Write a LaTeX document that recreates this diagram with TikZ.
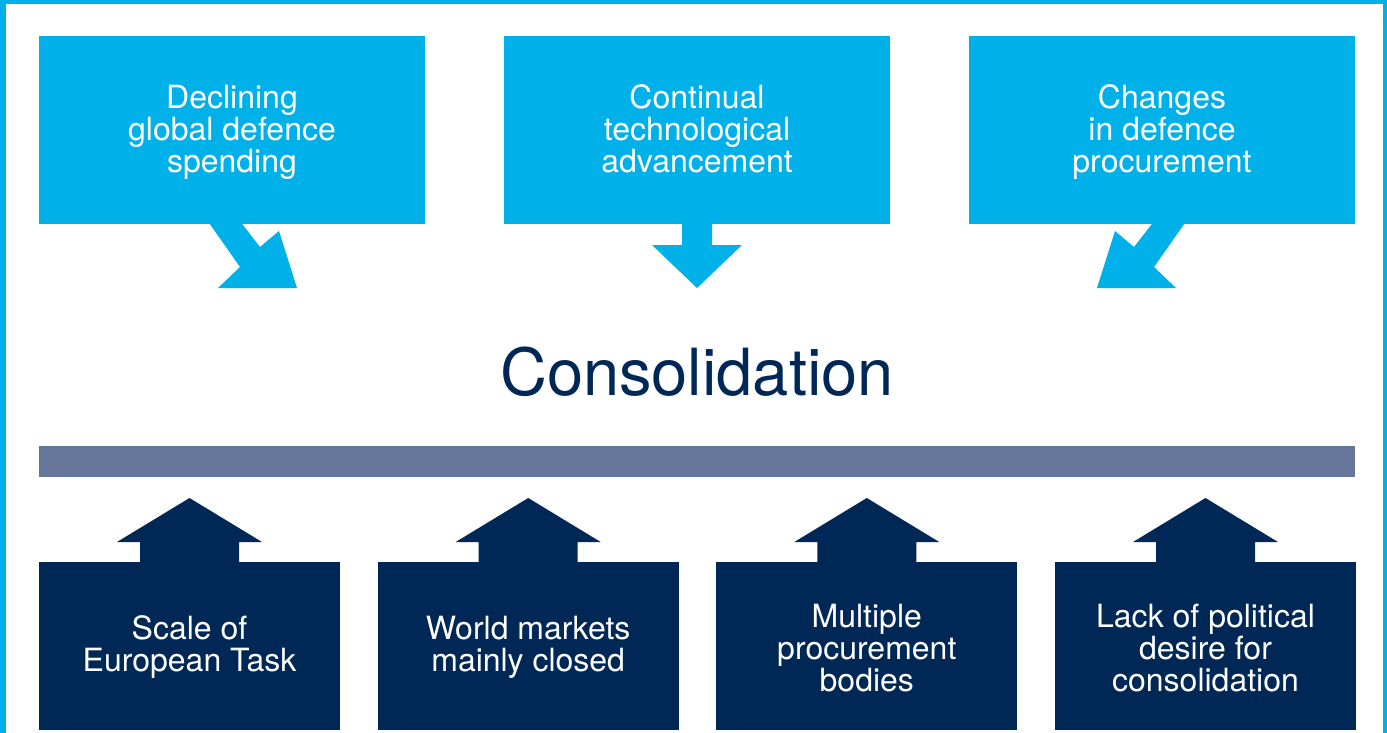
\documentclass[tikz,border=0pt]{standalone}
\usepackage{fontspec}
\setmainfont{TeX Gyre Heros}
\definecolor{skyblue}{HTML}{00B1E9}
\definecolor{navy}{HTML}{002856}
\definecolor{slate}{HTML}{66769A}
\tikzset{
  boxtext/.style={inner sep=0pt, align=center, text=white, font=\fontsize{32}{32}\selectfont, execute at begin node={\strut}, execute at end node={\strut}},
  topbox/.style={boxtext, fill=skyblue, minimum width=386pt, minimum height=188pt},
  lowbox/.style={boxtext, fill=navy, minimum width=301pt, minimum height=168pt},
  bigword/.style={anchor=base, text=navy, font=\fontsize{65}{70}\selectfont}
}
\begin{document}
\begin{tikzpicture}[x=1pt,y=-1pt]
\useasboundingbox (0,0) rectangle (1387,733);
\fill[white] (0,0) rectangle (1387,733);
\fill[skyblue] (0,0) rectangle (6,733);
\fill[skyblue] (0,0) rectangle (1387,4);
\fill[skyblue] (1383,0) rectangle (1387,733);

\fill[skyblue] (207,220) -- (239,220) -- (260,247) -- (279,231) -- (297,288) -- (218,288) -- (240,267) -- cycle;
\fill[skyblue] (682,220) -- (712,220) -- (712,245) -- (742,245) -- (697,288) -- (652,245) -- (682,245) -- cycle;
\fill[skyblue] (1187,220) -- (1155,220) -- (1134,247) -- (1115,231) -- (1097,288) -- (1176,288) -- (1154,267) -- cycle;

\node[topbox] (spend) at (232,130) {};
\node[topbox] (tech) at (697,130) {};
\node[topbox] (proc) at (1162,130) {};
\node[boxtext] (spendtext) at (232,133.6) {Declining\\global defence\\spending};
\node[boxtext] (techtext) at (697,133.6) {Continual\\technological\\advancement};
\node[boxtext] (proctext) at (1162,133.6) {Changes\\in defence\\procurement};

\node[bigword] (consol) at (697,395) {Consolidation};

\node[fill=slate, minimum width=1316pt, minimum height=31pt, inner sep=0pt] (bar) at (697,461.5) {};

\foreach \cx in {189.5,528.2,866.8,1205.5}
  \fill[navy] (\cx-49.5,566) -- (\cx-49.5,542) -- (\cx-72.5,542) -- (\cx,498) -- (\cx+72.5,542) -- (\cx+49.5,542) -- (\cx+49.5,566) -- cycle;

\node[lowbox] (scale) at (189.5,646) {};
\node[lowbox] (markets) at (528.2,646) {};
\node[lowbox] (bodies) at (866.8,646) {};
\node[lowbox] (desire) at (1205.5,646) {};
\node[boxtext] (scaletext) at (189.5,648.6) {Scale of\\European Task};
\node[boxtext] (marketstext) at (528.2,648.6) {World markets\\mainly closed};
\node[boxtext] (bodiestext) at (866.8,652.6) {Multiple\\procurement\\bodies};
\node[boxtext] (desiretext) at (1205.5,652.6) {Lack of political\\desire for\\consolidation};
\end{tikzpicture}
\end{document}
